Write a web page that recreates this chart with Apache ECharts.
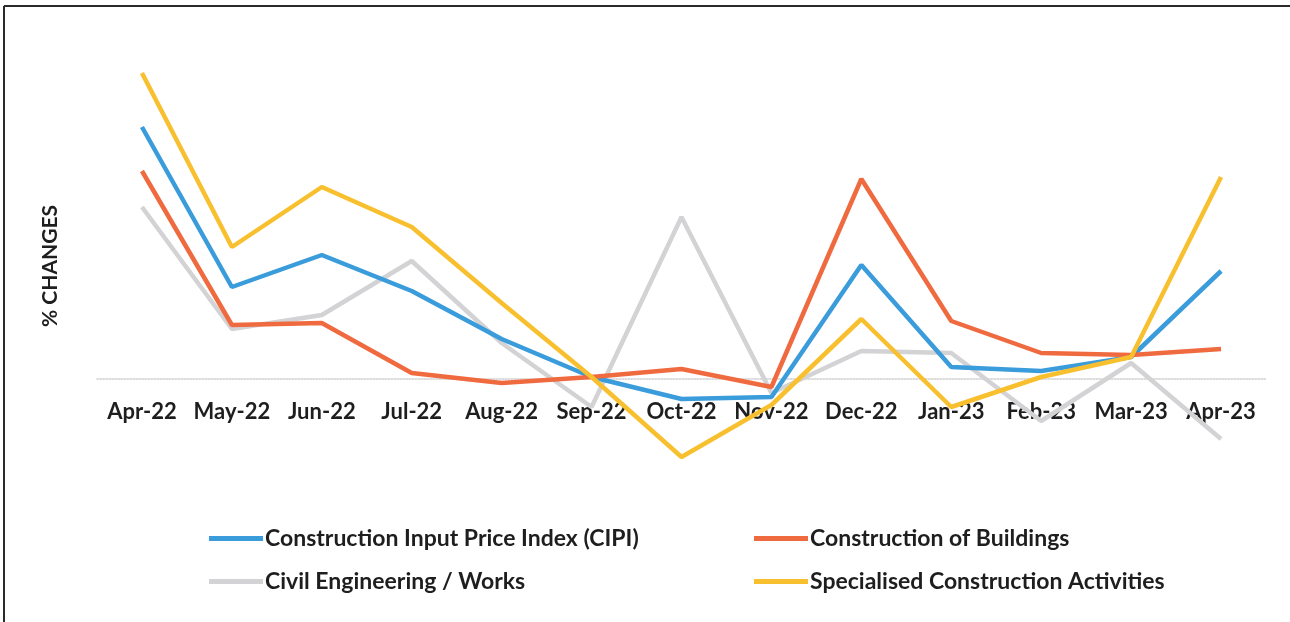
<!DOCTYPE html>
<html>
<head>
<meta charset="utf-8">
<style>
  html, body { margin: 0; padding: 0; background: #ffffff; }
  #chart { width: 1290px; height: 622px; }
</style>
<script src="https://cdn.jsdelivr.net/npm/echarts@6/dist/echarts.min.js"></script>
</head>
<body>
<div id="chart"></div>
<script>
const categories = ['Apr-22','May-22','Jun-22','Jul-22','Aug-22','Sep-22','Oct-22','Nov-22','Dec-22','Jan-23','Feb-23','Mar-23','Apr-23'];
const cipi        = [12.6, 4.6, 6.2, 4.4, 2.0, 0.1, -1.0, -0.9, 5.7, 0.6, 0.4, 1.1, 5.4];
const buildings   = [10.4, 2.7, 2.8, 0.3, -0.2, 0.1, 0.5, -0.4, 10.0, 2.9, 1.3, 1.2, 1.5];
const civil       = [8.6, 2.5, 3.2, 5.9, 1.8, -1.4, 8.1, -0.7, 1.4, 1.3, -2.1, 0.8, -3.0];
const specialised = [15.3, 6.6, 9.6, 7.6, 3.8, 0.1, -3.9, -1.3, 3.0, -1.4, 0.1, 1.1, 10.1];
const seriesNames = ['Construction Input Price Index (CIPI)', 'Construction of Buildings', 'Civil Engineering / Works', 'Specialised Construction Activities'];
const colors = ['#3a9cdb', '#f06a3f', '#d3d3d6', '#f8c02f'];
const yAxisTitle = '% CHANGES';

const chart = echarts.init(document.getElementById('chart'));
const font = 'Lato, "Open Sans", sans-serif';
const mk = (i, data) => ({
  name: seriesNames[i], type: 'line', data: data,
  symbol: 'none', smooth: false,
  lineStyle: { color: colors[i], width: 4.5 },
  itemStyle: { color: colors[i] },
  z: 2 + (i === 2 ? 0 : 1)
});
const legendText = { fontFamily: font, fontWeight: 'bold', fontSize: 23, color: '#1e1e1e', padding: [0,0,0,-3] };
chart.setOption({
  animation: false,
  backgroundColor: '#ffffff',
  grid: { left: 97, right: 24, top: 59, height: 400 },
  legend: [
    { data: [seriesNames[0], seriesNames[2]], orient: 'vertical', left: 204, top: 522, itemGap: 20,
      icon: 'rect', itemWidth: 54, itemHeight: 5, textStyle: legendText },
    { data: [seriesNames[1], seriesNames[3]], orient: 'vertical', left: 749, top: 522, itemGap: 20,
      icon: 'rect', itemWidth: 54, itemHeight: 5, textStyle: legendText }
  ],
  xAxis: {
    type: 'category', data: categories, boundaryGap: true, offset: -80,
    axisLine: { onZero: false, lineStyle: { color: '#d0d0d0', width: 1.5, type: 'dotted' } },
    axisTick: { show: false },
    axisLabel: { interval: 0, margin: 22, fontFamily: font, fontWeight: 'bold', fontSize: 22, color: '#1e1e1e' }
  },
  yAxis: {
    type: 'value', min: -4, max: 16, interval: 4,
    axisLine: { show: false }, axisTick: { show: false }, axisLabel: { show: false },
    splitLine: { show: false }
  },
  series: [mk(2, civil), mk(0, cipi), mk(1, buildings), mk(3, specialised)],
  graphic: [
    { type: 'line', shape: { x1: 4, y1: 6, x2: 1290, y2: 6 }, style: { stroke: '#2a2a2a', lineWidth: 2 } },
    { type: 'line', shape: { x1: 4, y1: 6, x2: 4, y2: 622 }, style: { stroke: '#2a2a2a', lineWidth: 2 } },
    { type: 'text', x: 50, y: 266, rotation: Math.PI / 2,
      style: { text: yAxisTitle, font: 'bold 21px ' + font, fill: '#1e1e1e', align: 'center', verticalAlign: 'middle' } }
  ]
});
</script>
</body>
</html>
